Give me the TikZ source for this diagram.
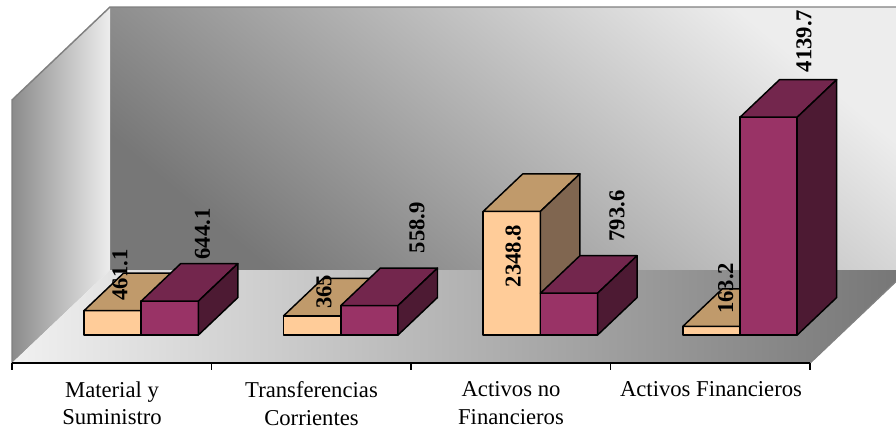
\documentclass[tikz,border=0pt]{standalone}
\usepackage{fontspec}
\setmainfont{Liberation Serif}
\definecolor{peachfront}{HTML}{FFCC99}
\definecolor{peachtop}{HTML}{C09A6B}
\definecolor{peachside}{HTML}{806650}
\definecolor{plumfront}{HTML}{993366}
\definecolor{plumtop}{HTML}{73264D}
\definecolor{plumside}{HTML}{4D1A33}
\definecolor{walledge}{HTML}{808080}
\definecolor{walllight}{HTML}{EDEDED}
\definecolor{walldark}{HTML}{777777}
\begin{document}
\begin{tikzpicture}[x=0.75pt,y=0.75pt,yscale=-1,xscale=1,
  face/.style={draw=black,line width=1.1pt,line join=round},
  edge/.style={draw=walledge,line width=1.1pt},
  vallabel/.style={rotate=90,inner sep=0pt,font=\fontsize{17}{20}\selectfont\bfseries},
  catlabel/.style={anchor=north,inner sep=0pt,align=center,font=\fontsize{17}{20.5}\selectfont}]
\useasboundingbox (0,0) rectangle (896,429);

%Shape: Back Wall
\shade [top color=walllight,bottom color=walldark,shading angle=-40] (110,7) -- (896,7) -- (896,270) -- (110,270) -- cycle ;
%Shape: Left Wall
\shade [left color=walldark!85!white,right color=walllight] (12,100) -- (110,7) -- (110,270) -- (12,363) -- cycle ;
%Shape: Floor
\shade [left color=walllight!80!white,right color=walldark] (12,363) -- (810,363) -- (896,281.4) -- (896,270) -- (110,270) -- cycle ;
%Straight Lines: wall edges
\draw [edge] (12,363) -- (12,100) -- (110,7) -- (896,7) ;
\draw [edge] (810,363) -- (896,281.4) ;

%Straight Lines: category axis
\coordinate (ax0) at (12,363);
\coordinate (ax4) at (810,363);
\draw [line width=1pt] (ax0) -- (ax4) ;
\draw [line width=1pt] (12,363) -- (12,370) (211.5,363) -- (211.5,370) (411,363) -- (411,370) (610.5,363) -- (610.5,370) (810,363) -- (810,370) ;

%Shape: Bar Material y Suministro
\draw [face,fill=peachfront] (84,310.7) rectangle (141.2,335) ;
\draw [face,fill=peachtop] (84,310.7) -- ++(39.5,-37.5) -- ++(57.2,0) -- ++(-39.5,37.5) -- cycle ;
\draw [face,fill=peachside] (141.2,310.7) -- ++(39.5,-37.5) -- ++(0,24.3) -- ++(-39.5,37.5) -- cycle ;
\draw [face,fill=plumfront] (141.2,301.1) rectangle (198.4,335) ;
\draw [face,fill=plumtop] (141.2,301.1) -- ++(39.5,-37.5) -- ++(57.2,0) -- ++(-39.5,37.5) -- cycle ;
\draw [face,fill=plumside] (198.4,301.1) -- ++(39.5,-37.5) -- ++(0,33.9) -- ++(-39.5,37.5) -- cycle ;
%Shape: Bar Transferencias Corrientes
\draw [face,fill=peachfront] (283.6,315.8) rectangle (340.8,335) ;
\draw [face,fill=peachtop] (283.6,315.8) -- ++(39.5,-37.5) -- ++(57.2,0) -- ++(-39.5,37.5) -- cycle ;
\draw [face,fill=peachside] (340.8,315.8) -- ++(39.5,-37.5) -- ++(0,19.2) -- ++(-39.5,37.5) -- cycle ;
\draw [face,fill=plumfront] (340.8,305.6) rectangle (398,335) ;
\draw [face,fill=plumtop] (340.8,305.6) -- ++(39.5,-37.5) -- ++(57.2,0) -- ++(-39.5,37.5) -- cycle ;
\draw [face,fill=plumside] (398,305.6) -- ++(39.5,-37.5) -- ++(0,29.4) -- ++(-39.5,37.5) -- cycle ;
%Shape: Bar Activos no Financieros
\draw [face,fill=peachfront] (483.2,211.4) rectangle (540.4,335) ;
\draw [face,fill=peachtop] (483.2,211.4) -- ++(39.5,-37.5) -- ++(57.2,0) -- ++(-39.5,37.5) -- cycle ;
\draw [face,fill=peachside] (540.4,211.4) -- ++(39.5,-37.5) -- ++(0,123.6) -- ++(-39.5,37.5) -- cycle ;
\draw [face,fill=plumfront] (540.4,293.2) rectangle (597.6,335) ;
\draw [face,fill=plumtop] (540.4,293.2) -- ++(39.5,-37.5) -- ++(57.2,0) -- ++(-39.5,37.5) -- cycle ;
\draw [face,fill=plumside] (597.6,293.2) -- ++(39.5,-37.5) -- ++(0,41.8) -- ++(-39.5,37.5) -- cycle ;
%Shape: Bar Activos Financieros
\draw [face,fill=peachfront] (682.8,326.4) rectangle (740,335) ;
\draw [face,fill=peachtop] (682.8,326.4) -- ++(39.5,-37.5) -- ++(57.2,0) -- ++(-39.5,37.5) -- cycle ;
\draw [face,fill=peachside] (740,326.4) -- ++(39.5,-37.5) -- ++(0,8.6) -- ++(-39.5,37.5) -- cycle ;
\draw [face,fill=plumfront] (740,117.2) rectangle (797.2,335) ;
\draw [face,fill=plumtop] (740,117.2) -- ++(39.5,-37.5) -- ++(57.2,0) -- ++(-39.5,37.5) -- cycle ;
\draw [face,fill=plumside] (797.2,117.2) -- ++(39.5,-37.5) -- ++(0,217.8) -- ++(-39.5,37.5) -- cycle ;

% Text Node
\node [vallabel] (v-mat-a) at (120,275) {461.1};
% Text Node
\node [vallabel] (v-mat-b) at (202.5,234) {644.1};
% Text Node
\node [vallabel] (v-tra-a) at (324,291.7) {365};
% Text Node
\node [vallabel] (v-tra-b) at (417,227.5) {558.9};
% Text Node
\node [vallabel] (v-act-a) at (513.3,256) {2348.8};
% Text Node
\node [vallabel] (v-act-b) at (617,216) {793.6};
% Text Node
\node [vallabel] (v-fin-a) at (725.7,288.3) {163.2};
% Text Node
\node [vallabel] (v-fin-b) at (804,41) {4139.7};
% Text Node
\node [catlabel] (c-mat) at (112,381.5) {Material y\\Suministro};
% Text Node
\node [catlabel] (c-tra) at (311.5,381.5) {Transferencias\\Corrientes};
% Text Node
\node [catlabel] (c-act) at (511,381.5) {Activos no\\Financieros};
% Text Node
\node [catlabel] (c-fin) at (711,381.5) {Activos Financieros};
\end{tikzpicture}
\end{document}
